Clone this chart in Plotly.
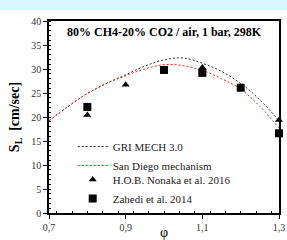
import plotly.graph_objects as go

phi_curve = [0.7, 0.75, 0.8, 0.85, 0.9, 0.95, 1.0, 1.05, 1.1, 1.15, 1.2, 1.25, 1.3]
gri_mech = [19.2, 22.2, 24.9, 27.0, 28.8, 30.6, 31.9, 32.3, 31.2, 29.5, 27.0, 23.6, 19.2]
san_diego = [19.2, 22.2, 24.9, 27.0, 28.6, 30.0, 30.9, 30.7, 29.7, 28.0, 25.8, 22.2, 17.7]

phi_nonaka = [0.8, 0.9, 1.1, 1.3]
sl_nonaka = [20.4, 26.7, 30.3, 19.4]

phi_zahedi = [0.8, 1.0, 1.1, 1.2, 1.3]
sl_zahedi = [22.1, 29.8, 29.2, 26.1, 16.6]

x_tickvals = [0.7, 0.9, 1.1, 1.3]
x_ticktext = ["0,7", "0,9", "1,1", "1,3"]
y_tickvals = [0, 5, 10, 15, 20, 25, 30, 35, 40]

serif = "Liberation Serif, Times New Roman, serif"

fig = go.Figure()
fig.add_trace(go.Scatter(x=phi_curve, y=gri_mech, mode="lines", name="GRI MECH 3.0",
                         line=dict(color="#333333", width=1, dash="2px,2px"), line_shape="spline",
                         cliponaxis=False, legend="legend"))
fig.add_trace(go.Scatter(x=phi_curve, y=san_diego, mode="lines", name="San Diego mechanism",
                         line=dict(color="#ff2020", width=1, dash="2px,2px"), line_shape="spline",
                         cliponaxis=False, legend="legend"))
fig.add_trace(go.Scatter(x=phi_nonaka, y=sl_nonaka, mode="markers", name="H.O.B. Nonaka et al. 2016",
                         marker=dict(symbol="triangle-up", size=7, color="black"), cliponaxis=False,
                         legend="legend2"))
fig.add_trace(go.Scatter(x=phi_zahedi, y=sl_zahedi, mode="markers", name="Zahedi et al. 2014",
                         marker=dict(symbol="square", size=8, color="black"), cliponaxis=False,
                         legend="legend2"))

legend_style = dict(xanchor="left", yanchor="top", bgcolor="rgba(0,0,0,0)",
                    font=dict(family=serif, size=11, color="#222222"), tracegroupgap=0,
                    itemwidth=30)

fig.update_layout(
    width=287, height=240,
    margin=dict(l=49, r=8, t=21, b=27),
    paper_bgcolor="white", plot_bgcolor="white",
    font=dict(family=serif, size=10, color="#222222"),
    showlegend=True,
    legend=dict(x=0.103, y=0.422, **legend_style),
    legend2=dict(x=0.103, y=0.25, **legend_style),
    xaxis=dict(range=[0.7, 1.3], tickvals=x_tickvals, ticktext=x_ticktext, automargin=False,
               showgrid=False, zeroline=False, showline=True, linecolor="black", linewidth=1.5,
               mirror=True, ticks="outside", ticklen=4, tickcolor="black",
               minor=dict(dtick=0.04, ticks="inside", ticklen=2, tickcolor="black"),
               tickfont=dict(family=serif, size=10, color="#333333"),
               title=dict(text="φ", font=dict(family=serif, size=14, color="black"), standoff=8)),
    yaxis=dict(range=[0, 40], tickvals=y_tickvals, automargin=False,
               showgrid=False, zeroline=False, showline=True, linecolor="black", linewidth=1.5,
               mirror=True, ticks="outside", ticklen=4, tickcolor="black",
               minor=dict(dtick=1, ticks="inside", ticklen=2, tickcolor="black"),
               tickfont=dict(family=serif, size=10, color="#333333"),
               title=dict(text="<b>S<sub>L</sub>  [cm/sec]</b>", font=dict(family=serif, size=14, color="black"), standoff=8)),
)

fig.add_shape(type="rect", xref="paper", yref="paper", x0=-0.3, x1=1.1, y0=(213 - 10) / 192, y1=1.2,
              line=dict(width=0), fillcolor="#d8f7fc", layer="below")

fig.add_annotation(xref="paper", yref="paper", x=0.5, y=0.945, xanchor="center", yanchor="middle",
                   text="<b>80% CH4-20% CO2 / air, 1 bar, 298K</b>", showarrow=False,
                   font=dict(family=serif, size=12, color="black"))

fig.write_html("out.html", config={"displayModeBar": False},
               post_script="document.body.style.margin='0';document.body.style.overflow='hidden';")
